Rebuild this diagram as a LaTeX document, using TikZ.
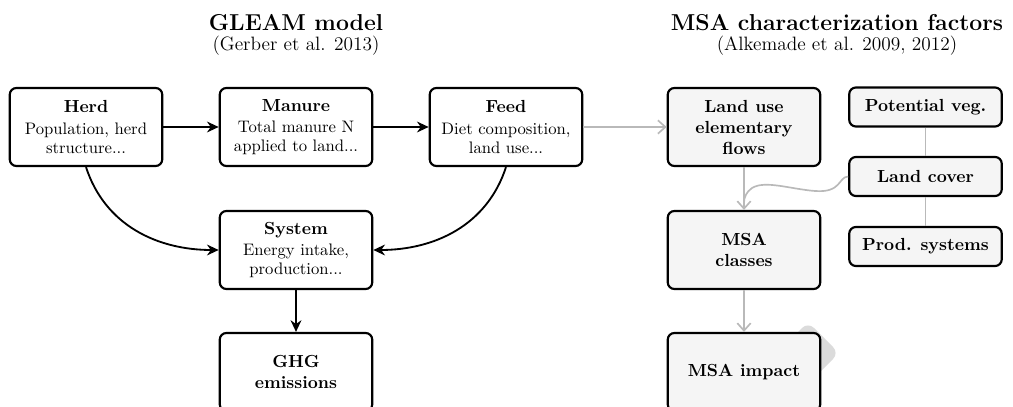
\documentclass[tikz,border=0pt]{standalone}
\usetikzlibrary{arrows.meta}
\begin{document}
\begin{tikzpicture}[x=0.6pt,y=-0.6pt,
  box/.style={draw, line width=1.3pt, rounded corners=4pt, minimum width=91.5pt, minimum height=46.8pt, align=center, inner sep=0pt, fill=white, font=\fontsize{10}{11.4}\selectfont},
  mbox/.style={box, fill=gray!8, font=\fontsize{10.5}{12.6}\selectfont\bfseries},
  sbox/.style={mbox, minimum height=23.4pt},
  blk/.style={-{Stealth[length=7pt,width=6.5pt]}, line width=1.1pt},
  gry/.style={-{Straight Barb[length=4.5pt,width=8pt]}, draw=gray!55, line width=1pt},
  gline/.style={draw=gray!55, line width=1pt},
  ttl/.style={font=\fontsize{13.8}{16}\selectfont\bfseries, inner sep=0pt},
  sub/.style={font=\fontsize{11.6}{14}\selectfont, inner sep=0pt}]
\useasboundingbox (0,0) rectangle (1013,407);

% watermark diamond
\fill[gray!28, rounded corners=5pt] (808,322) -- (839,353) -- (808,384) -- (777,353) -- cycle;

% titles
\node[ttl] (t1) at (296,23) {GLEAM model};
\node[sub] (t1s) at (296,46) {(Gerber et al. 2013)};
\node[ttl] (t2) at (837,23) {MSA characterization factors};
\node[sub] (t2s) at (837,46) {(Alkemade et al. 2009, 2012)};

% GLEAM boxes
\node[box] (herd) at (86,127) {{\bfseries\fontsize{10.5}{12}\selectfont Herd}\\[1.6pt]Population, herd\\structure...};
\node[box] (manure) at (296,127) {{\bfseries\fontsize{10.5}{12}\selectfont Manure}\\[1.6pt]Total manure N\\applied to land...};
\node[box] (feed) at (506,127) {{\bfseries\fontsize{10.5}{12}\selectfont Feed}\\[1.6pt]Diet composition,\\land use...};
\node[box] (system) at (296,250) {{\bfseries\fontsize{10.5}{12}\selectfont System}\\[1.6pt]Energy intake,\\production...};
\node[box, font=\fontsize{10.5}{12.6}\selectfont\bfseries] (ghg) at (296,372) {GHG\\emissions};

% MSA boxes
\node[mbox] (landuse) at (744,127) {Land use\\elementary\\flows};
\node[mbox] (msaclass) at (744,250) {MSA\\classes};
\node[mbox] (msaimpact) at (744,372) {MSA impact};
\node[sbox] (potveg) at (925.5,107) {Potential veg.};
\node[sbox] (landcover) at (925.5,176.5) {Land cover};
\node[sbox] (prod) at (925.5,246.5) {Prod. systems};

% black connectors
\draw[blk] (herd) -- (manure);
\draw[blk] (manure) -- (feed);
\draw[blk] (herd.south) to[out=-72,in=180] (system.west);
\draw[blk] (feed.south) to[out=-108,in=0] (system.east);
\draw[blk] (system) -- (ghg);

% gray connectors
\coordinate (mg) at (744,203);
\draw[gry] (feed) -- (landuse);
\draw[gry] (landuse) -- (msaclass);
\draw[gry] (msaclass) -- (msaimpact);
\draw[gline] (landcover.west) .. controls (838,177) and (842,193) .. (815,191)
  .. controls (790,189) and (765,180) .. (752,188)
  .. controls (746,192) and (744,198) .. (mg);
\draw[gline] (potveg) -- (landcover);
\draw[gline] (landcover) -- (prod);
\end{tikzpicture}
\end{document}
